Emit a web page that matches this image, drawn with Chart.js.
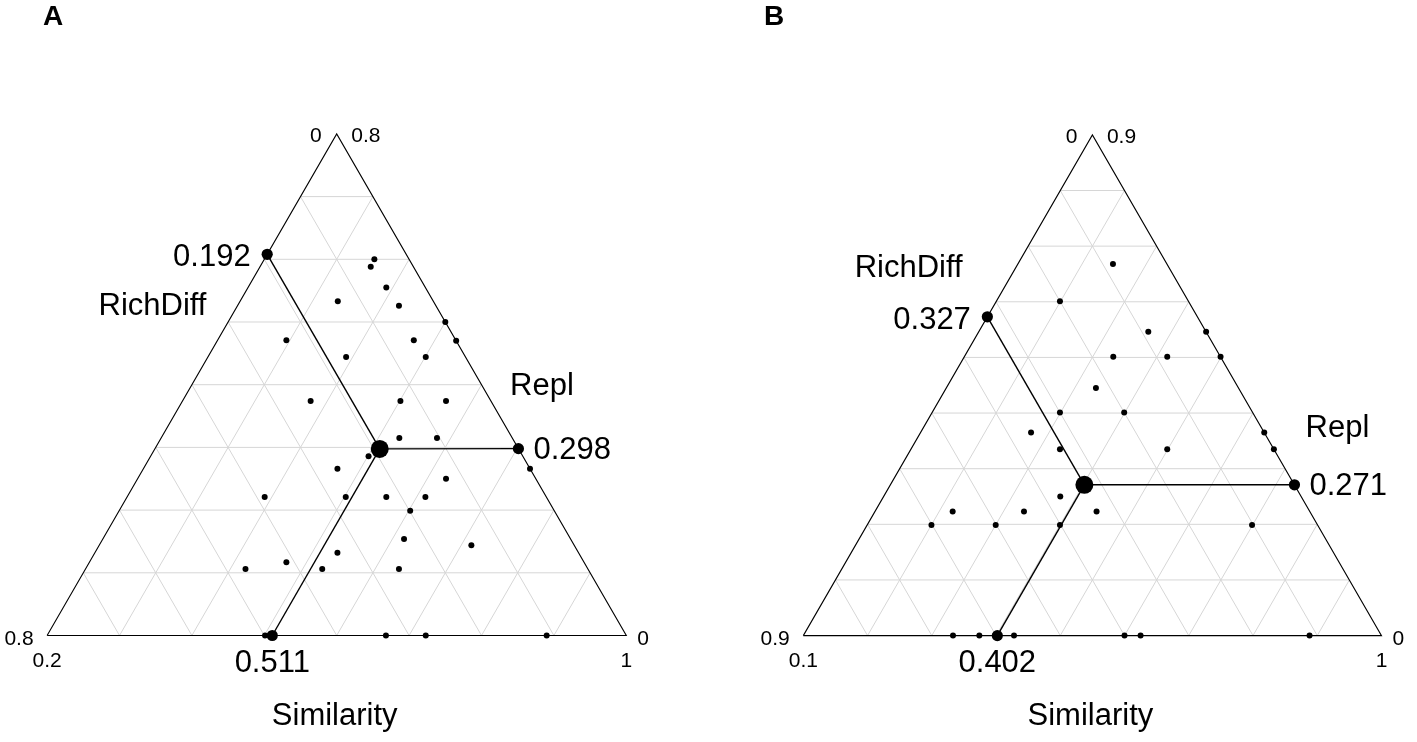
<!DOCTYPE html>
<html><head><meta charset="utf-8">
<script src="https://cdn.jsdelivr.net/npm/chart.js@4.4.1/dist/chart.umd.min.js"></script>
<style>
html,body{margin:0;padding:0;background:#fff;overflow:hidden}
#wrap{position:relative;width:1417px;height:742px;background:#fff}
.panel{position:absolute;top:0}
</style></head><body>
<div id="wrap">
<div class="panel" style="left:0;width:708px;height:742px"><canvas id="cA" width="708" height="742"></canvas></div>
<div class="panel" style="left:708px;width:709px;height:742px"><canvas id="cB" width="709" height="742"></canvas></div>
</div>
<script>
// ---------- Panel A data (Similarity, RichDiff, Repl) ----------
const similarityA = [0.352,0.353,0.391,0.335,0.423,0.500,0.295,0.471,0.530,0.391,0.501,0.377,0.501,0.564,0.529,0.581,0.501,0.734,0.468,0.626,0.390,0.502,0.558,0.612,0.602,0.616,0.714,0.535,0.472,0.421,0.527,0.633,0.501,0.668,0.723,0.890];
const richDiffA   = [0.048,0.059,0.054,0.132,0.051,0.000,0.234,0.058,0.000,0.165,0.055,0.249,0.125,0.062,0.156,0.104,0.213,0.000,0.266,0.124,0.389,0.277,0.221,0.167,0.199,0.230,0.142,0.333,0.411,0.473,0.367,0.261,0.499,0.332,0.277,0.110];
const replA       = [0.600,0.588,0.555,0.533,0.526,0.500,0.471,0.471,0.470,0.444,0.444,0.374,0.374,0.374,0.315,0.315,0.286,0.266,0.266,0.250,0.221,0.221,0.221,0.221,0.199,0.154,0.144,0.132,0.117,0.106,0.106,0.106,0.000,0.000,0.000,0.000];
const meanA = [0.511, 0.192, 0.298]; // Similarity, RichDiff, Repl
const simMinA = 0.2;
const gridSimA = [0.3,0.4,0.5,0.6,0.7,0.8,0.9];
const gridOtherA = [0.1,0.2,0.3,0.4,0.5,0.6,0.7];
const vertexLabelsA = ['0','0.8','0.8','0.2','0','1']; // top-left, top-right, BL-left, BL-below, BR-right, BR-below

// ---------- Panel B data ----------
const similarityB = [0.248,0.199,0.364,0.454,0.332,0.416,0.499,0.333,0.299,0.399,0.272,0.332,0.499,0.635,0.665,0.375,0.221,0.332,0.445,0.200,0.300,0.400,0.699,0.333,0.374,0.428,0.600,0.625,0.888];
const richDiffB   = [0.084,0.200,0.090,0.000,0.167,0.083,0.000,0.222,0.300,0.200,0.363,0.333,0.166,0.000,0.000,0.375,0.556,0.445,0.332,0.601,0.501,0.401,0.102,0.667,0.626,0.572,0.400,0.375,0.112];
const replB       = [0.668,0.601,0.546,0.546,0.501,0.501,0.501,0.445,0.401,0.401,0.365,0.335,0.335,0.365,0.335,0.250,0.223,0.223,0.223,0.199,0.199,0.199,0.199,0.000,0.000,0.000,0.000,0.000,0.000];
const meanB = [0.402, 0.327, 0.271];
const simMinB = 0.1;
const gridSimB = [0.2,0.3,0.4,0.5,0.6,0.7,0.8,0.9];
const gridOtherB = [0.1,0.2,0.3,0.4,0.5,0.6,0.7,0.8];
const vertexLabelsB = ['0','0.9','0.9','0.1','0','1'];

const axisNames = ['Similarity','RichDiff','Repl'];

// ---------- helpers ----------
const SQ = Math.sqrt(3) / 2;
function tern(sim, rich, repl, simMin) {
  const R = 1 - simMin;
  let a = (sim - simMin) / R, b = rich / R, c = repl / R;
  const s = a + b + c; a /= s; c /= s;
  return { x: a + c / 2, y: c * SQ };
}
const FONT = '"Liberation Sans", Arial, "DejaVu Sans", sans-serif';

function buildPanel(canvasId, P) {
  const lo = P.simMin;
  const ds = [];
  const line = (p1, p2, color, width, order) => ({
    data: [tern(p1[0], p1[1], p1[2], lo), tern(p2[0], p2[1], p2[2], lo)],
    showLine: true, borderColor: color, borderWidth: width, pointRadius: 0,
    pointHoverRadius: 0, fill: false, order: order, clip: false
  });
  const gc = '#d6d6d6';
  P.gridOther.forEach(v => ds.push(line([lo, 1 - lo - v, v], [1 - v, 0, v], gc, 1, 10)));   // Repl constant
  P.gridSim.forEach(v => ds.push(line([v, 1 - v, 0], [v, 0, 1 - v], gc, 1, 10)));            // Similarity constant
  P.gridOther.forEach(v => ds.push(line([lo, v, 1 - lo - v], [1 - v, v, 0], gc, 1, 10)));   // RichDiff constant
  // outline
  const BL = [lo, 1 - lo, 0], BR = [1, 0, 0], TOP = [lo, 0, 1 - lo];
  ds.push({ data: [BL, BR, TOP, BL].map(p => tern(p[0], p[1], p[2], lo)), showLine: true,
    borderColor: '#000', borderWidth: 1.1, pointRadius: 0, fill: false, order: 8, clip: false });
  // mean lines
  const [ms, mr, mp] = P.mean;
  const M = [ms, mr, mp];
  const leftPt = [lo, mr, 1 - lo - mr], botPt = [ms, 1 - ms, 0], rightPt = [1 - mp, 0, mp];
  ds.push(line(M, leftPt, '#000', 1.4, 6));
  ds.push(line(M, botPt, '#000', 1.4, 6));
  ds.push(line(M, rightPt, '#000', 1.4, 6));
  // observations
  ds.push({ data: P.sim.map((s, i) => tern(s, P.rich[i], P.repl[i], lo)), showLine: false,
    pointRadius: 3, pointBackgroundColor: '#000', pointBorderWidth: 0, order: 4, clip: false });
  // axis markers of mean
  ds.push({ data: [leftPt, botPt, rightPt].map(p => tern(p[0], p[1], p[2], lo)), showLine: false,
    pointRadius: 5.6, pointBackgroundColor: '#000', pointBorderWidth: 0, order: 2, clip: false });
  ds.push({ data: [tern(ms, mr, mp, lo)], showLine: false,
    pointRadius: 9, pointBackgroundColor: '#000', pointBorderWidth: 0, order: 1, clip: false });

  const F = P.frame;
  const labelPlugin = {
    id: 'ternLabels',
    afterDatasetsDraw(chart) {
      const ctx = chart.ctx, xs = chart.scales.x, ys = chart.scales.y;
      const px = p => { const t = tern(p[0], p[1], p[2], lo); return [xs.getPixelForValue(t.x), ys.getPixelForValue(t.y)]; };
      const [tx, ty] = px(TOP), [blx, bly] = px(BL), [brx, bry] = px(BR);
      const [lx, ly] = px(leftPt), [bx] = px(botPt), [rx, ry] = px(rightPt);
      ctx.save();
      ctx.fillStyle = '#000';
      ctx.textBaseline = 'alphabetic';
      const txt = (s, x, y, align, size, bold) => {
        ctx.font = (bold ? 'bold ' : '') + size + 'px ' + FONT;
        ctx.textAlign = align; ctx.fillText(s, x, y);
      };
      const L = P.vertexLabels, sm = 21, lg = 31;
      txt(L[0], tx - 15, ty + 8, 'right', sm);
      txt(L[1], tx + 14.5, ty + 8, 'left', sm);
      txt(L[2], blx - 13.5, bly + 9, 'right', sm);
      txt(L[3], blx, bly + 31, 'center', sm);
      txt(L[4], brx + 11, bry + 9, 'left', sm);
      txt(L[5], brx, bry + 31, 'center', sm);
      txt(ms.toFixed(3), bx, bly + 36.5, 'center', lg);
      txt(mr.toFixed(3), lx - 16.5, ly + 12, 'right', lg);
      txt(mp.toFixed(3), rx + 15, ry + 10.5, 'left', lg);
      txt(axisNames[0], tx - 2, bly + 89.5, 'center', lg);
      txt(axisNames[1], tx + P.richOff[0], ty + P.richOff[1], 'center', lg);
      txt(axisNames[2], tx + P.replOff[0], ty + P.replOff[1], 'center', lg);
      txt(P.letter, P.letterPos[0], P.letterPos[1], 'left', 28, true);
      ctx.restore();
    }
  };

  return new Chart(document.getElementById(canvasId), {
    type: 'scatter',
    data: { datasets: ds },
    options: {
      responsive: false, animation: false, events: [],
      layout: { padding: 0, autoPadding: false },
      plugins: { legend: { display: false }, tooltip: { enabled: false } },
      scales: {
        x: { type: 'linear', display: false, min: -F.blx / F.side, max: (F.W - F.blx) / F.side },
        y: { type: 'linear', display: false, min: -(F.H - F.bly) / F.side, max: F.bly / F.side }
      }
    },
    plugins: [labelPlugin]
  });
}

buildPanel('cA', {
  sim: similarityA, rich: richDiffA, repl: replA, mean: meanA, simMin: simMinA,
  gridSim: gridSimA, gridOther: gridOtherA, vertexLabels: vertexLabelsA,
  letter: 'A', letterPos: [43, 25], richOff: [-184.2, 181], replOff: [205.3, 261],
  frame: { blx: 47.1, bly: 635.5, side: 579.2, W: 708, H: 742 }
});
buildPanel('cB', {
  sim: similarityB, rich: richDiffB, repl: replB, mean: meanB, simMin: simMinB,
  gridSim: gridSimB, gridOther: gridOtherB, vertexLabels: vertexLabelsB,
  letter: 'B', letterPos: [56, 25], richOff: [-183.7, 142], replOff: [245.1, 302],
  frame: { blx: 95.3, bly: 635.6, side: 578.2, W: 709, H: 742 }
});
</script>
</body></html>
